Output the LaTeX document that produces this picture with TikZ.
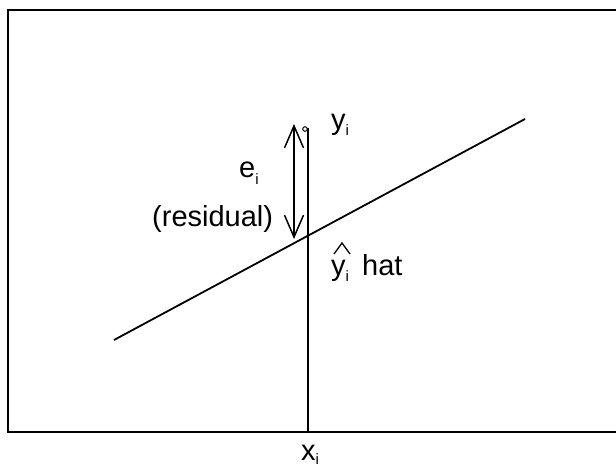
\documentclass[tikz,border=0pt]{standalone}
\usepackage{fontspec}
\setmainfont{Liberation Sans}
\usetikzlibrary{arrows.meta}
\newcommand\mysub[2][-6pt]{\raisebox{#1}{\fontsize{15}{17}\selectfont #2}}
\begin{document}
\begin{tikzpicture}[x=1pt,y=-1pt,
  lbl/.style={inner sep=0pt, anchor=base west, font=\fontsize{29}{34}\selectfont},
  frame/.style={line width=2pt},
  regline/.style={line width=1.8pt},
  vline/.style={line width=1.5pt},
  resid/.style={line width=1.5pt, {Straight Barb[length=22pt,width=19pt,line width=1.5pt]}-{Straight Barb[length=22pt,width=19pt,line width=1.5pt]}}]
\useasboundingbox (0,0) rectangle (616,468);
\draw[frame] (8,10) rectangle (624,432);
% regression line
\coordinate (l1) at (114,340);
\coordinate (l2) at (525,119);
\draw[regline] (l1) -- (l2);
% vertical line at x_i
\coordinate (vtop) at (308,128);
\coordinate (vbot) at (308,432);
\draw[vline] (vtop) -- (vbot);
\draw[line width=1pt] (305,129) circle (2.3);
% residual arrow
\coordinate (atop) at (294,124);
\coordinate (abot) at (294,239);
\draw[resid] (abot) -- (atop);
% labels
\node[lbl] (yi) at (331,130) {y\mysub{i}};
\node[lbl] (ei) at (239,178) {e\mysub{i}};
\node[lbl] (res) at (152,226) {(residual)};
\node[lbl] (yhat) at (331,275) {y\mysub{i}};
\node[lbl] (hat) at (362,275) {hat};
\draw[line width=1.3pt] (334,254) -- (342,243) -- (350,254);
\node[lbl] (xi) at (301,460) {x\mysub[-4pt]{i}};
\end{tikzpicture}
\end{document}
